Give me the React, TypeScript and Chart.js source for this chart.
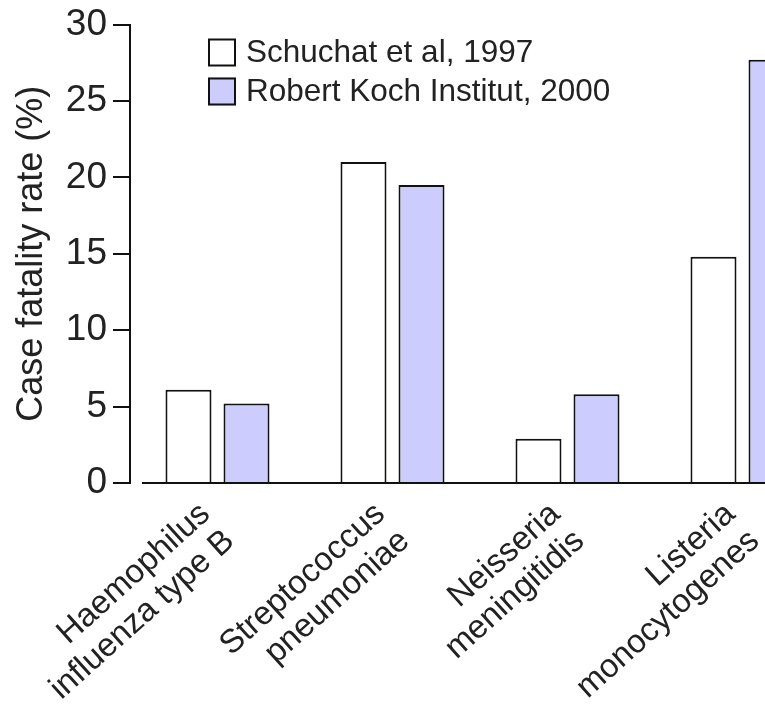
import React, { useEffect, useRef } from "react";
import { Chart, registerables } from "chart.js";

Chart.register(...registerables);

const categories: string[][] = [
  ["Haemophilus", "influenza type B"],
  ["Streptococcus", "pneumoniae"],
  ["Neisseria", "meningitidis"],
  ["Listeria", "monocytogenes"],
];
const seriesLabels = ["Schuchat et al, 1997", "Robert Koch Institut, 2000"];
const schuchat1997 = [6.1, 21.0, 2.9, 14.8];
const rki2000 = [5.2, 19.5, 5.8, 27.7];
const yTicks = [0, 5, 10, 15, 20, 25, 30];
const yTitle = "Case fatality rate (%)";

const FAMILY = '"Liberation Sans", Arial, Helvetica, sans-serif';
const TEXT = "#222222";
const LINE = "#111111";
const LAVENDER = "#ccccff";

const legendPlugin = {
  id: "boxLegend",
  afterDraw(chart: any) {
    const ctx = chart.ctx as CanvasRenderingContext2D;
    const { left, top } = chart.chartArea;
    const x0 = left + 78;
    const y0 = top + 14;
    const size = 28;
    chart.data.datasets.forEach((ds: any, i: number) => {
      const y = y0 + i * 39;
      ctx.save();
      ctx.fillStyle = ds.backgroundColor;
      ctx.fillRect(x0, y, size, size);
      ctx.lineWidth = 2;
      ctx.strokeStyle = LINE;
      ctx.strokeRect(x0 + 1, y + 1, size - 2, size - 2);
      ctx.fillStyle = TEXT;
      ctx.font = `31.5px ${FAMILY}`;
      ctx.textBaseline = "middle";
      ctx.textAlign = "left";
      ctx.fillText(ds.label, x0 + size + 10, y + size / 2 + 1);
      ctx.restore();
    });
  },
};

const baselinePlugin = {
  id: "baseline",
  afterDatasetsDraw(chart: any) {
    const ctx = chart.ctx as CanvasRenderingContext2D;
    const y = chart.scales.y.getPixelForValue(0);
    const { left, right } = chart.chartArea;
    ctx.save();
    ctx.strokeStyle = LINE;
    ctx.lineWidth = 2;
    ctx.beginPath();
    ctx.moveTo(left + 12, y);
    ctx.lineTo(right, y);
    ctx.stroke();
    ctx.restore();
  },
};

export default function App() {
  const ref = useRef<HTMLCanvasElement | null>(null);

  useEffect(() => {
    if (!ref.current) return;
    Chart.defaults.font.family = FAMILY;
    const chart = new Chart(ref.current, {
      type: "bar",
      data: {
        labels: categories,
        datasets: [
          {
            label: seriesLabels[0],
            data: schuchat1997,
            backgroundColor: "#ffffff",
            borderColor: LINE,
            borderWidth: 2,
            barPercentage: 0.793,
            categoryPercentage: 0.663,
          },
          {
            label: seriesLabels[1],
            data: rki2000,
            backgroundColor: LAVENDER,
            borderColor: LINE,
            borderWidth: 2,
            barPercentage: 0.793,
            categoryPercentage: 0.663,
          },
        ],
      },
      options: {
        responsive: false,
        animation: false,
        devicePixelRatio: 1,
        layout: { padding: { top: 23, right: 10, left: 0, bottom: 0 } },
        plugins: {
          legend: { display: false },
          tooltip: { enabled: false },
          title: { display: false },
        },
        scales: {
          x: {
            offset: true,
            grid: { display: false },
            border: { display: false },
            ticks: {
              autoSkip: false,
              minRotation: 42,
              maxRotation: 42,
              padding: 5,
              labelOffset: -12,
              color: TEXT,
              font: { size: 33, lineHeight: 1.1 },
            },
            afterFit: (s: any) => {
              s.height = 228;
            },
          },
          y: {
            min: 0,
            max: 30,
            afterBuildTicks: (s: any) => {
              s.ticks = yTicks.map((v) => ({ value: v }));
            },
            ticks: {
              color: TEXT,
              padding: 6,
              font: { size: 37, lineHeight: 1.0 },
            },
            grid: {
              drawOnChartArea: false,
              drawTicks: true,
              tickLength: 17,
              tickColor: LINE,
              lineWidth: 2,
            },
            border: { display: true, color: LINE, width: 2 },
            title: {
              display: true,
              text: yTitle,
              color: TEXT,
              font: { size: 36 },
              padding: { top: 10, bottom: 0 },
            },
            afterFit: (s: any) => {
              s.width = 130;
            },
          },
        },
      },
      plugins: [baselinePlugin, legendPlugin],
    });
    return () => chart.destroy();
  }, []);

  return (
    <div
      style={{
        position: "absolute",
        left: 0,
        top: 0,
        width: 765,
        height: 711,
        overflow: "hidden",
        background: "#ffffff",
      }}
    >
      <canvas ref={ref} width={840} height={711} style={{ display: "block" }} />
    </div>
  );
}
